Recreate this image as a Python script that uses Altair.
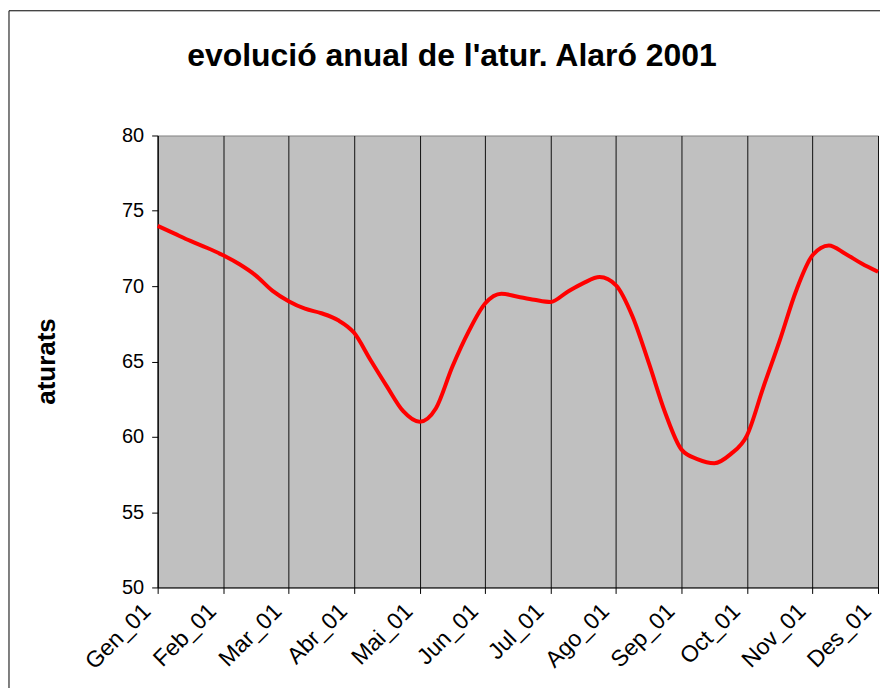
import altair as alt
import pandas as pd

# Month labels of the category axis
months = ["Gen_01", "Feb_01", "Mar_01", "Abr_01", "Mai_01", "Jun_01",
          "Jul_01", "Ago_01", "Sep_01", "Oct_01", "Nov_01", "Des_01"]

# Readings of the curve, four per month (quarter-month steps), Gen_01 .. Des_01
aturats = [74.0, 73.5, 73.0, 72.55,
           72.05, 71.45, 70.7, 69.7,
           69.0, 68.5, 68.2, 67.75,
           66.9, 65.1, 63.35, 61.7,
           61.0, 61.9, 64.65, 67.0,
           68.85, 69.5, 69.3, 69.1,
           68.95, 69.6, 70.2, 70.6,
           70.05, 68.0, 64.9, 61.6,
           59.15, 58.5, 58.25, 58.85,
           60.1, 63.3, 66.4, 69.7,
           72.05, 72.7, 72.15, 71.5,
           70.95]

title_text = "evolució anual de l'atur. Alaró 2001"

step = [i for i in range(len(aturats))]
df = pd.DataFrame({"step": step, "aturats": aturats})

FONT = "Liberation Sans"
label_list = "[" + ",".join("'" + m + "'" for m in months) + "]"

x_enc = alt.X(
    "step:Q",
    scale=alt.Scale(domain=[0, 44], nice=False, zero=False),
    axis=alt.Axis(
        values=[4 * i for i in range(len(months))],
        labelExpr=label_list + "[round(datum.value / 4)]",
        labelAngle=-45,
        labelAlign="right",
        labelBaseline="middle",
        labelOverlap=False,
        labelFont=FONT,
        labelFontSize=23,
        labelColor="black",
        labelPadding=14,
        labelOffset=-11,
        tickColor="black",
        tickSize=6,
        domainColor="black",
        grid=True,
        gridColor="#111111",
        gridOpacity=1,
        gridWidth=1,
        title=None,
    ),
)

y_enc = alt.Y(
    "aturats:Q",
    scale=alt.Scale(domain=[50, 80], nice=False, zero=False),
    axis=alt.Axis(
        values=[50, 55, 60, 65, 70, 75, 80],
        labelFont=FONT,
        labelFontSize=20,
        labelColor="black",
        labelPadding=8,
        tickColor="black",
        tickSize=6,
        domainColor="black",
        grid=False,
        title="aturats",
        titleFont=FONT,
        titleFontSize=26,
        titleFontWeight="bold",
        titleColor="black",
        titleX=-111,
        titleY=226,
        titleBaseline="middle",
        titleAngle=-90,
    ),
)

line = alt.Chart(df).mark_line(color="#FF0000", strokeWidth=4, interpolate="monotone").encode(
    x=x_enc, y=y_enc
)

one_row = alt.Data(values=[{"t": title_text}])

border = alt.Chart(one_row).mark_rect(
    fillOpacity=0, stroke="black", strokeWidth=1
).encode(
    x=alt.value(-149), x2=alt.value(800), y=alt.value(-125), y2=alt.value(800)
)

title = alt.Chart(one_row).mark_text(
    font=FONT, fontSize=32, fontWeight="bold", color="black",
    align="center", baseline="alphabetic"
).encode(
    text="t:N", x=alt.value(295), y=alt.value(-70)
)

chart = alt.layer(line, border, title).properties(
    width=722,
    height=453,
    background="white",
    autosize=alt.AutoSizeParams(type="none"),
    padding={"left": 150, "top": 127, "right": 2, "bottom": 100},
).configure_view(
    fill="#C0C0C0", stroke="#808080", strokeWidth=1
)

chart.save("out.html", embed_options={"renderer": "svg", "actions": False})
